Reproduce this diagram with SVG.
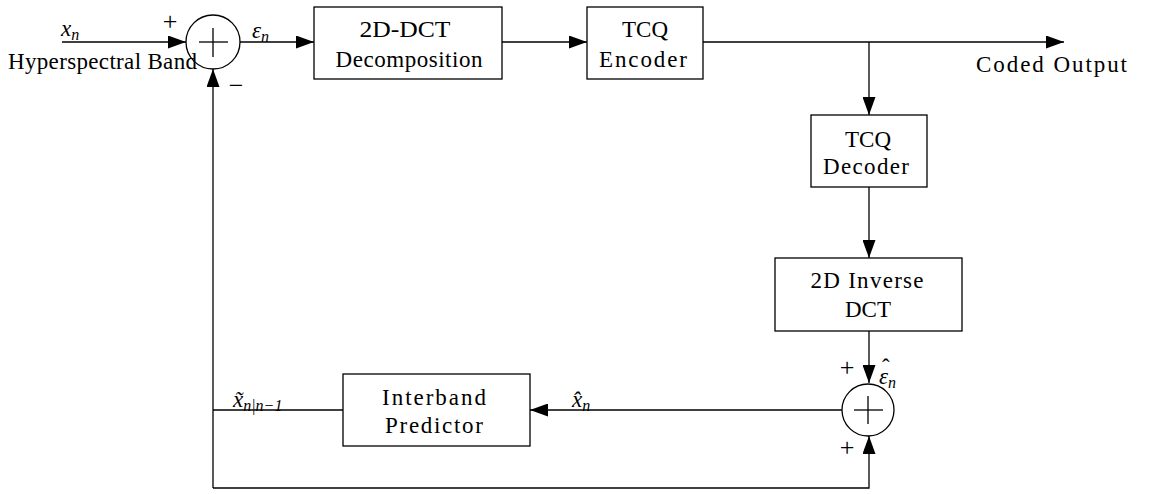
<svg xmlns="http://www.w3.org/2000/svg" width="1152" height="494" viewBox="0 0 1152 494">
<defs>
<marker id="ah" markerUnits="userSpaceOnUse" markerWidth="18" markerHeight="13" refX="18" refY="6.5" orient="auto">
<path d="M0,0 L18,6.5 L0,13 z" fill="#000"/>
</marker>
<style>
.box{fill:#fff;stroke:#000;stroke-width:1.3}
.ln{fill:none;stroke:#000;stroke-width:1.3}
.arr{fill:none;stroke:#000;stroke-width:1.3;marker-end:url(#ah)}
.t{font-family:"Liberation Serif","DejaVu Serif",serif;font-size:23px;fill:#000}
.c{text-anchor:middle}
.p{font-family:"Liberation Serif","DejaVu Serif",serif;font-size:26px;fill:#000;text-anchor:middle}
.m{font-family:"Liberation Serif","DejaVu Serif",serif;font-style:italic;font-size:23px;fill:#000}
.s{font-size:16px}
</style>
</defs>
<rect width="1152" height="494" fill="#fff"/>

<g id="connectors">
<line class="arr" x1="62" y1="42" x2="186" y2="42"/>
<line class="arr" x1="240" y1="42" x2="314" y2="42"/>
<line class="arr" x1="502" y1="42" x2="587" y2="42"/>
<line class="arr" x1="703" y1="42" x2="1064" y2="42"/>
<line class="arr" x1="869" y1="42" x2="869" y2="115"/>
<line class="arr" x1="869" y1="187" x2="869" y2="258"/>
<line class="arr" x1="869" y1="331" x2="869" y2="383"/>
<line class="arr" x1="842" y1="410" x2="530" y2="410"/>
<line class="ln" x1="343" y1="410" x2="213" y2="410"/>
<line class="arr" x1="213" y1="488" x2="213" y2="69"/>
<polyline class="arr" points="213,488 869,488 869,436"/>
</g>

<g id="sum1">
<circle class="box" cx="213" cy="42" r="27"/>
<line class="ln" x1="199" y1="42" x2="228" y2="42"/>
<line class="ln" x1="213" y1="28" x2="213" y2="57"/>
</g>

<g id="dct">
<rect class="box" x="314" y="7" width="188" height="72"/>
<text class="t c" x="405" y="37" textLength="91" lengthAdjust="spacingAndGlyphs">2D-DCT</text>
<text class="t c" x="409" y="67" textLength="147" lengthAdjust="spacing">Decomposition</text>
</g>

<g id="enc">
<rect class="box" x="587" y="7" width="116" height="72"/>
<text class="t c" x="645" y="37">TCQ</text>
<text class="t c" x="643" y="67" textLength="88" lengthAdjust="spacing">Encoder</text>
</g>

<g id="dec">
<rect class="box" x="811" y="115" width="116" height="72"/>
<text class="t c" x="868" y="147">TCQ</text>
<text class="t c" x="866" y="174" textLength="86" lengthAdjust="spacing">Decoder</text>
</g>

<g id="idct">
<rect class="box" x="775" y="258" width="187" height="73"/>
<text class="t c" x="867" y="288" textLength="113" lengthAdjust="spacing">2D Inverse</text>
<text class="t c" x="868" y="317">DCT</text>
</g>

<g id="sum2">
<circle class="box" cx="868" cy="410" r="26"/>
<line class="ln" x1="854" y1="410" x2="883" y2="410"/>
<line class="ln" x1="868" y1="396" x2="868" y2="424"/>
</g>

<g id="pred">
<rect class="box" x="343" y="374" width="187" height="72"/>
<text class="t c" x="434" y="405" textLength="104" lengthAdjust="spacing">Interband</text>
<text class="t c" x="434" y="433" textLength="98" lengthAdjust="spacing">Predictor</text>
</g>

<g id="labels">
<text class="t" x="8" y="69" textLength="189" lengthAdjust="spacing">Hyperspectral Band</text>
<text class="t" x="976" y="72" textLength="151" lengthAdjust="spacing">Coded Output</text>
<text class="m" x="61" y="36">x<tspan class="s" dy="4">n</tspan></text>
<text class="p" x="170" y="30">+</text>
<text class="p" x="236" y="94">−</text>
<text class="m" x="252" y="38">ε<tspan class="s" dy="4">n</tspan></text>
<text class="p" x="847" y="376">+</text>
<text class="p" x="847" y="456">+</text>
<text class="m" x="879" y="384">ε<tspan class="s" dy="4">n</tspan></text>
<text class="t" x="882" y="375" font-size="18">ˆ</text>
<text class="m" x="572" y="407">x̂<tspan class="s" dy="4">n</tspan></text>
<text class="m" x="233" y="407">x̃<tspan class="s" dy="4">n|n−1</tspan></text>
</g>
</svg>
